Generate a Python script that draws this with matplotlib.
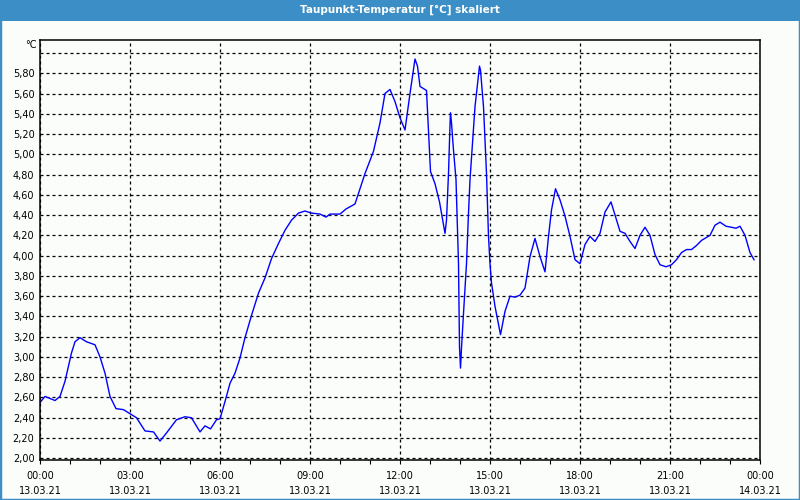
import matplotlib.pyplot as plt
from matplotlib.patches import Rectangle
from matplotlib.ticker import FixedLocator, FuncFormatter

# minutes since 13.03.21 00:00, dew point in degC
minutes = [0, 10, 30, 40, 50, 63, 70, 80, 93, 110, 120, 130, 140, 152, 167, 180,
           193, 210, 227, 240, 253, 273, 290, 303, 320, 330, 341, 353, 360, 370,
           380, 390, 400, 410, 423, 437, 450, 463, 477, 490, 503, 517, 530, 543,
           560, 572, 580, 600, 612, 630, 650, 667, 680, 690, 700, 710, 720, 730,
           740, 750, 755, 760, 770, 773, 777, 781, 790, 799, 810, 813, 817, 820,
           821, 823, 827, 832, 837, 839, 841, 843, 847, 853, 857, 860, 870, 879,
           881, 887, 893, 897, 900, 903, 910, 921, 930, 940, 950, 960, 970, 980,
           990, 1000, 1010, 1017, 1023, 1031, 1040, 1050, 1060, 1070, 1080, 1090,
           1100, 1110, 1120, 1130, 1142, 1150, 1160, 1170, 1180, 1190, 1200, 1210,
           1220, 1230, 1240, 1252, 1263, 1273, 1283, 1293, 1303, 1313, 1323, 1340,
           1350, 1360, 1372, 1383, 1392, 1400, 1410, 1420, 1428]
dewpoint = [2.55, 2.61, 2.57, 2.61, 2.76, 3.04, 3.15, 3.19, 3.15, 3.12, 3.00, 2.84,
            2.61, 2.49, 2.48, 2.44, 2.40, 2.27, 2.26, 2.17, 2.25, 2.38, 2.41, 2.40,
            2.26, 2.32, 2.29, 2.38, 2.39, 2.56, 2.74, 2.84, 2.99, 3.19, 3.41, 3.63,
            3.78, 3.97, 4.12, 4.25, 4.35, 4.42, 4.44, 4.42, 4.41, 4.38, 4.41, 4.41,
            4.46, 4.51, 4.81, 5.03, 5.31, 5.60, 5.64, 5.52, 5.36, 5.24, 5.60, 5.94,
            5.87, 5.67, 5.64, 5.63, 5.24, 4.83, 4.71, 4.53, 4.22, 4.35, 4.81, 5.29,
            5.41, 5.31, 5.04, 4.75, 3.92, 3.10, 2.89, 3.09, 3.43, 3.92, 4.42, 4.75,
            5.47, 5.87, 5.83, 5.47, 4.81, 4.19, 3.92, 3.73, 3.50, 3.22, 3.45, 3.60,
            3.59, 3.61, 3.68, 3.99, 4.17, 3.99, 3.84, 4.19, 4.45, 4.66, 4.55, 4.39,
            4.19, 3.96, 3.92, 4.11, 4.19, 4.14, 4.22, 4.43, 4.53, 4.40, 4.24, 4.22,
            4.14, 4.07, 4.20, 4.28, 4.20, 4.01, 3.91, 3.89, 3.91, 3.96, 4.03, 4.06,
            4.06, 4.10, 4.15, 4.20, 4.30, 4.33, 4.29, 4.28, 4.27, 4.29, 4.20, 4.03,
            3.96]

x_ticks = [0, 180, 360, 540, 720, 900, 1080, 1260, 1440]
x_labels = ['00:00\n13.03.21', '03:00\n13.03.21', '06:00\n13.03.21', '09:00\n13.03.21',
            '12:00\n13.03.21', '15:00\n13.03.21', '18:00\n13.03.21', '21:00\n13.03.21',
            '00:00\n14.03.21']
y_ticks = [2.0, 2.2, 2.4, 2.6, 2.8, 3.0, 3.2, 3.4, 3.6, 3.8, 4.0, 4.2, 4.4, 4.6,
           4.8, 5.0, 5.2, 5.4, 5.6, 5.8, 6.0]

title_blue = '#3c8fc6'

fig = plt.figure(figsize=(8, 5), dpi=100, facecolor='#fbfdfb')

# window frame: title bar and thin blue border
fig.patches.append(Rectangle((0, 1 - 20.5 / 500), 1, 20.5 / 500, transform=fig.transFigure,
                             facecolor=title_blue, edgecolor='none', zorder=0))
fig.patches.append(Rectangle((0, 0), 1, 1, transform=fig.transFigure, fill=False,
                             edgecolor=title_blue, linewidth=2.5, zorder=0))
fig.text(0.5, 1 - 9.5 / 500, 'Taupunkt-Temperatur [°C] skaliert', color='white',
         ha='center', va='center', fontsize=7.5, fontweight='bold')

ax = fig.add_axes([40 / 800, 1 - 460 / 500, 720 / 800, 420 / 500])
ax.set_facecolor('#fbfdfb')
ax.plot(minutes, dewpoint, color='#0000ff', linewidth=1.0)

ax.set_xlim(0, 1440)
ax.set_ylim(1.983, 6.128)

ax.set_xticks(x_ticks)
ax.set_xticklabels(x_labels, fontsize=7, linespacing=1.65)
ax.xaxis.set_minor_locator(FixedLocator(range(60, 1440, 60)))
ax.tick_params(axis='x', which='both', length=3, width=0.8, direction='out', pad=5)

ax.set_yticks(y_ticks)
ax.yaxis.set_major_formatter(FuncFormatter(
    lambda v, p: '' if v > 5.9 else f'{v:.2f}'.replace('.', ',')))
ax.tick_params(axis='y', length=0, pad=4, labelsize=7)

ax.grid(True, which='major', color='black', linewidth=0.9, linestyle=(0, (2.4, 2.4)))
for s in ax.spines.values():
    s.set_color('black')
    s.set_linewidth(1.1)

ax.text(-0.004, 1 - 5 / 420, '°C', transform=ax.transAxes, ha='right', va='center',
        fontsize=7)

plt.savefig('out.png', dpi=100, facecolor=fig.get_facecolor())
